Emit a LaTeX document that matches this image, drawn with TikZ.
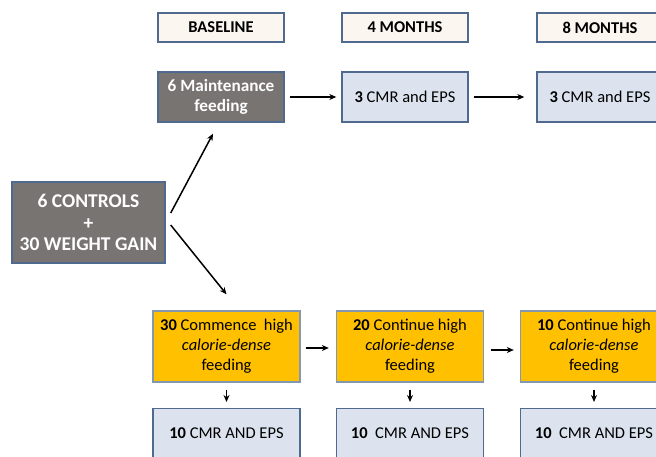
\documentclass[tikz,border=0pt]{standalone}
\usepackage{fontspec}
\setmainfont{Carlito}
\usetikzlibrary{arrows.meta}
\definecolor{boxline}{HTML}{4F6A8E}
\definecolor{headfill}{HTML}{FBF6F0}
\definecolor{greyfill}{HTML}{787472}
\definecolor{bluefill}{HTML}{DCE3EE}
\definecolor{orangefill}{HTML}{FFC000}
\begin{document}
\begin{tikzpicture}[x=1pt,y=-1pt,
	every node/.style={inner sep=0pt,align=center,font=\fontsize{16.5}{20}\selectfont},
	head/.style={draw=boxline,line width=1.4pt,fill=headfill,minimum width=126pt,minimum height=29pt,font=\fontsize{16.5}{20}\selectfont\bfseries},
	greybox/.style={draw=boxline,line width=1.4pt,fill=greyfill,text=white,font=\fontsize{17.2}{20}\selectfont\bfseries},
	bluebox/.style={draw=boxline,line width=1.4pt,fill=bluefill,minimum width=126pt,minimum height=50pt},
	orangebox/.style={draw=boxline!70,line width=1.4pt,fill=orangefill,minimum width=147pt,minimum height=71pt},
	cmrbox/.style={draw=boxline,line width=1.4pt,fill=bluefill,minimum width=147pt,minimum height=60pt},
	arr/.style={-{Stealth[length=7pt,width=6pt]},line width=1.5pt}]
			\useasboundingbox (0,0) rectangle (656,457);
			\clip (0,0) rectangle (656,457);
			% time points
			\node [head] (base) at (221,27.5) {BASELINE};
			\node [head] (m4) at (405,27.5) {4 MONTHS};
			\node [head] (m8) at (600,27.5) {8 MONTHS};
			% control arm
			\node [greybox,minimum width=126pt,minimum height=50pt] (maint) at (221,97) {6 Maintenance\\feeding};
			\node [bluebox] (c4) at (405,97) {\textbf{3} CMR and EPS};
			\node [bluebox] (c8) at (600,97) {\textbf{3} CMR and EPS};
			% start
			\node [greybox,minimum width=153pt,minimum height=81pt,font=\fontsize{19.5}{21.5}\selectfont\bfseries] (start) at (88.5,222.5) {6 CONTROLS\\+\\30 WEIGHT GAIN};
			% weight gain arm
			\node [orangebox] (w0) at (226.5,346.5) {\textbf{30} Commence\ \ high\\\textit{calorie-dense}\\feeding};
			\node [orangebox] (w4) at (410,346.5) {\textbf{20} Continue high\\\textit{calorie-dense}\\feeding};
			\node [orangebox] (w8) at (594,346.5) {\textbf{10} Continue high\\\textit{calorie-dense}\\feeding};
			\node [cmrbox,anchor=north] (e0) at (226.5,408) {};
			\node [cmrbox,anchor=north] (e4) at (410,408) {};
			\node [cmrbox,anchor=north] (e8) at (594,408) {};
			\node (t0) at (226.5,433) {\textbf{10} CMR AND EPS};
			\node (t4) at (410,433) {\textbf{10}\ \ CMR AND EPS};
			\node (t8) at (594,433) {\textbf{10}\ \ CMR AND EPS};
			% arrows
			\draw [arr] ([xshift=5pt,yshift=9.5pt]start.east) -- ([xshift=-8pt,yshift=-11pt]maint.south);
			\draw [arr] ([xshift=5pt,yshift=-2.5pt]start.east) -- ([xshift=0pt,yshift=16pt]w0.north);
			\draw [arr] ([xshift=5pt]maint.east) -- ([xshift=-5pt]c4.west);
			\draw [arr] ([xshift=5pt]c4.east) -- ([xshift=-12pt]c8.west);
			\draw [arr] ([xshift=5pt,yshift=-1.5pt]w0.east) -- ([xshift=-7pt,yshift=-1.5pt]w4.west);
			\draw [arr] ([xshift=7pt,yshift=-3.5pt]w4.east) -- ([xshift=-6pt,yshift=-3.5pt]w8.west);
			\draw [arr] ([yshift=-7pt]w0.south) -- ([yshift=6pt]e0.north);
			\draw [arr] ([yshift=-7pt]w4.south) -- ([yshift=6pt]e4.north);
			\draw [arr] ([yshift=-7pt]w8.south) -- ([yshift=6pt]e8.north);
\end{tikzpicture}
\end{document}
